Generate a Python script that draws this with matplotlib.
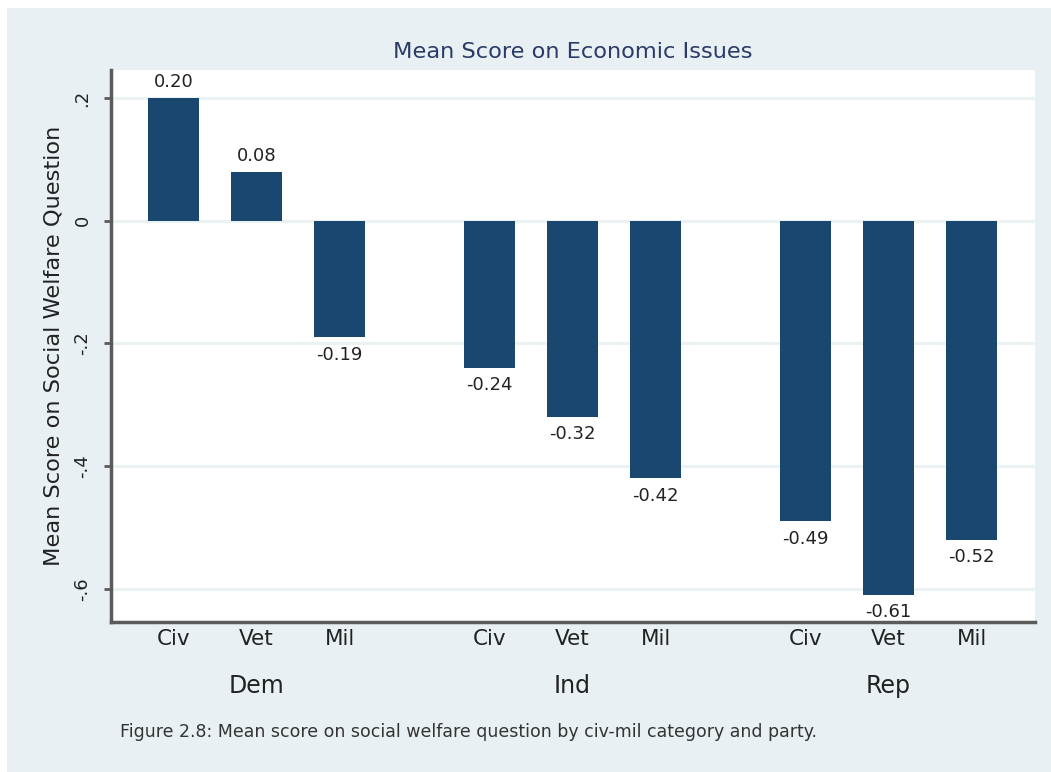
import matplotlib
matplotlib.use("Agg")
import matplotlib.pyplot as plt
import numpy as np

# =========================================================
# DATA
# =========================================================

parties = ["Dem", "Ind", "Rep"]
categories = ["Civ", "Vet", "Mil"]

scores = [
    0.20, 0.08, -0.19,    # Dem
    -0.24, -0.32, -0.42,  # Ind
    -0.49, -0.61, -0.52,  # Rep
]

y_ticks = [0.2, 0, -0.2, -0.4, -0.6]
y_tick_labels = [".2", "0", "-.2", "-.4", "-.6"]

# =========================================================
# STYLE
# =========================================================

BAR = "#1a476f"
BG = "#e8f0f3"
GRID = "#eaf2f3"
AXIS = "#5a5a5a"
TEXT = "#222222"

plt.rcParams["font.family"] = ["DejaVu Sans"]

# =========================================================
# POSITIONS
# =========================================================

group_step = 3.8
positions = []
for g in range(len(parties)):
    for c in range(len(categories)):
        positions.append(g * group_step + c)
positions = np.array(positions)

# =========================================================
# CHART
# =========================================================

fig = plt.figure(figsize=(10.51, 7.72), dpi=100)
fig.patch.set_facecolor("white")

# outer light background, thin white border on top / left
fig.patches.append(
    plt.Rectangle(
        (7 / 1051, 0), 1.0, 1 - 8 / 772,
        transform=fig.transFigure, facecolor=BG, edgecolor="none", zorder=-10,
    )
)

ax = fig.add_axes([111 / 1051, 1 - 622 / 772, (1035 - 111) / 1051, (622 - 70) / 772])
ax.set_facecolor("white")

ax.bar(positions, scores, width=0.615, color=BAR, zorder=3)

ax.set_xlim(-0.75, positions[-1] + 0.76)
ax.set_ylim(-0.6541, 0.2459)

ax.set_yticks(y_ticks)
ax.set_yticklabels(y_tick_labels, rotation=90, va="center", fontsize=13)
ax.yaxis.grid(True, color=GRID, linewidth=2.2, zorder=0)
ax.tick_params(axis="y", length=5, width=2, color=AXIS, pad=9, labelcolor=TEXT)

ax.set_xticks(positions)
ax.set_xticklabels(categories * len(parties), fontsize=15.5)
ax.tick_params(axis="x", length=0, pad=5, labelcolor=TEXT)

for side in ["top", "right"]:
    ax.spines[side].set_visible(False)
for side in ["left", "bottom"]:
    ax.spines[side].set_color(AXIS)
    ax.spines[side].set_linewidth(2.5)

# value labels
for x, v in zip(positions, scores):
    if v >= 0:
        ax.annotate(f"{v:.2f}", (x, v), xytext=(0, 5), textcoords="offset points",
                    ha="center", va="bottom", fontsize=13, color=TEXT)
    else:
        ax.annotate(f"{v:.2f}", (x, v), xytext=(0, -6), textcoords="offset points",
                    ha="center", va="top", fontsize=13, color=TEXT, zorder=5)

# party labels under each group
for g, party in enumerate(parties):
    ax.text(g * group_step + 1, -0.116, party, transform=ax.get_xaxis_transform(),
            ha="center", va="center", fontsize=17, color=TEXT)

ax.set_ylabel("Mean Score on Social Welfare Question", fontsize=16.2, color=TEXT, labelpad=7)

fig.text(573 / 1051, 1 - 52 / 772, "Mean Score on Economic Issues",
         ha="center", va="center", fontsize=16.2, color="#2b3a67")

fig.text(120 / 1051, 1 - 732 / 772,
         "Figure 2.8: Mean score on social welfare question by civ-mil category and party.",
         ha="left", va="center", fontsize=12.5, color="#333333")

fig.savefig("out.png", dpi=100, facecolor=fig.get_facecolor())
